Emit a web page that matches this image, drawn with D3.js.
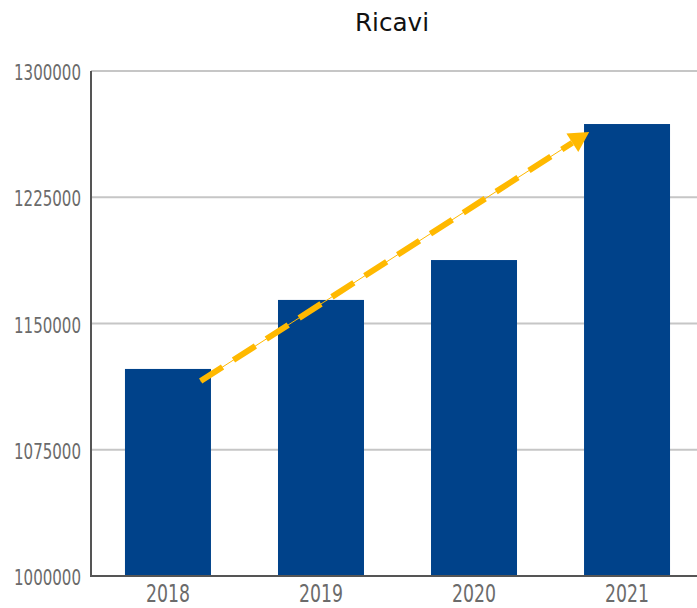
<!DOCTYPE html>
<head>
  <meta charset="utf-8">
  <title>Ricavi</title>
  <script src="https://d3js.org/d3.v7.min.js"></script>
  <style>
    body { margin:0; background:#fff; }
    svg { display:block; }
    .lbl { font-family: "DejaVu Sans", sans-serif; font-stretch: condensed; }
  </style>
</head>

<body>
  <svg width="697" height="608"></svg>
  <script>
    var years = ['2018', '2019', '2020', '2021'];
    var ricavi = [1123000, 1164000, 1187700, 1268500];
    var yTicks = [1000000, 1075000, 1150000, 1225000, 1300000];
    // trend arrow: from 2018 to 2021, value at each end
    var trendYears = ['2018', '2021'];
    var trendValues = [1115800, 1263800];
    var trendOffsets = [0.88, 0.06]; // fraction across the band

    var svg = d3.select('svg');
    var pLeft = 91, pRight = 704, pTop = 71, pBottom = 576;

    var x = d3.scaleBand()
      .domain(years)
      .range([pLeft, pRight])
      .paddingInner(0.438)
      .paddingOuter(0.222);

    var y = d3.scaleLinear()
      .domain([1000000, 1300000])
      .range([pBottom, pTop]);

    // title
    svg.append('text')
      .attr('x', 392)
      .attr('y', 31)
      .attr('text-anchor', 'middle')
      .attr('font-family', '"DejaVu Sans", sans-serif')
      .attr('font-size', 24)
      .attr('textLength', 74)
      .attr('lengthAdjust', 'spacingAndGlyphs')
      .attr('fill', '#111')
      .text('Ricavi');

    // gridlines
    svg.append('g')
      .selectAll('line')
      .data(yTicks.slice(1))
      .enter().append('line')
      .attr('x1', pLeft)
      .attr('x2', 697)
      .attr('y1', d => y(d))
      .attr('y2', d => y(d))
      .attr('stroke', '#c6c6c6')
      .attr('stroke-width', 2);

    // y labels
    svg.append('g')
      .selectAll('text')
      .data(yTicks)
      .enter().append('text')
      .attr('class', 'lbl')
      .attr('x', 81)
      .attr('y', d => y(d) + 9)
      .attr('text-anchor', 'end')
      .attr('font-size', 21)
      .attr('textLength', 67)
      .attr('lengthAdjust', 'spacingAndGlyphs')
      .attr('fill', '#6b6b6b')
      .text(d => d);

    // bars
    svg.append('g')
      .selectAll('rect')
      .data(ricavi)
      .enter().append('rect')
      .attr('x', (d, i) => x(years[i]))
      .attr('y', d => y(d))
      .attr('width', x.bandwidth())
      .attr('height', d => pBottom - y(d))
      .attr('fill', '#00428a');

    // axis lines
    svg.append('line')
      .attr('x1', pLeft).attr('x2', pLeft)
      .attr('y1', pTop).attr('y2', pBottom)
      .attr('stroke', '#555').attr('stroke-width', 2);
    svg.append('line')
      .attr('x1', pLeft - 1).attr('x2', 697)
      .attr('y1', pBottom).attr('y2', pBottom)
      .attr('stroke', '#555').attr('stroke-width', 2);

    // x labels
    svg.append('g')
      .selectAll('text')
      .data(years)
      .enter().append('text')
      .attr('class', 'lbl')
      .attr('x', d => x(d) + x.bandwidth() / 2)
      .attr('y', 602)
      .attr('text-anchor', 'middle')
      .attr('font-size', 24)
      .attr('textLength', 44)
      .attr('lengthAdjust', 'spacingAndGlyphs')
      .attr('fill', '#6b6b6b')
      .text(d => d);

    // trend arrow
    var x0 = x(trendYears[0]) + trendOffsets[0] * x.bandwidth();
    var y0 = y(trendValues[0]);
    var x1 = x(trendYears[1]) + trendOffsets[1] * x.bandwidth();
    var y1 = y(trendValues[1]);
    var ang = Math.atan2(y1 - y0, x1 - x0);
    var headLen = 20, headW = 11;
    var bx = x1 - headLen * Math.cos(ang), by = y1 - headLen * Math.sin(ang);

    var orange = '#ffb900';
    svg.append('line')
      .attr('x1', x0).attr('y1', y0).attr('x2', bx).attr('y2', by)
      .attr('stroke', orange).attr('stroke-width', 1);
    svg.append('line')
      .attr('x1', x0).attr('y1', y0).attr('x2', bx).attr('y2', by)
      .attr('stroke', orange).attr('stroke-width', 6)
      .attr('stroke-dasharray', '26,13');
    var px = -Math.sin(ang), py = Math.cos(ang);
    svg.append('path')
      .attr('d', 'M' + x1 + ',' + y1 +
        'L' + (bx + px * headW) + ',' + (by + py * headW) +
        'L' + (bx - px * headW) + ',' + (by - py * headW) + 'Z')
      .attr('fill', orange);
  </script>
</body>
